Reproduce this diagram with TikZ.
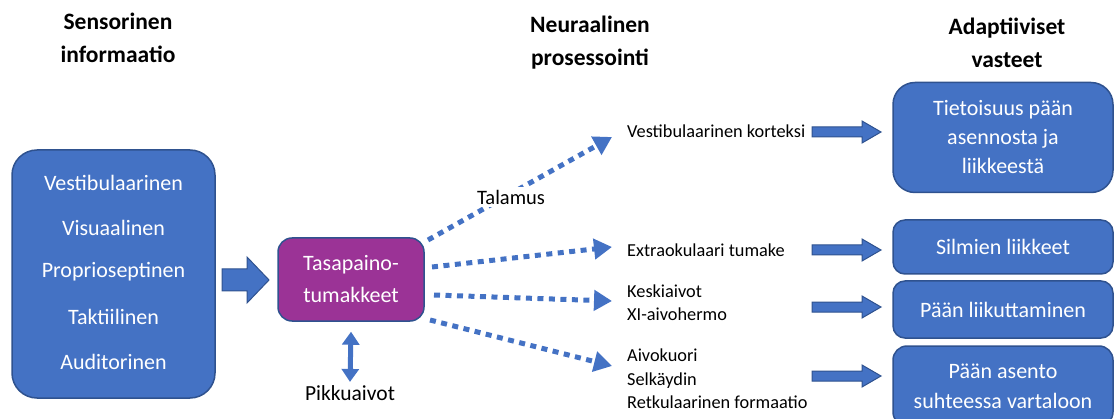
\documentclass[tikz,border=0pt]{standalone}
\usepackage{fontspec}
\setmainfont{Carlito}
\usetikzlibrary{arrows.meta}
\definecolor{bfill}{HTML}{4472C4}
\definecolor{bdraw}{HTML}{2F528F}
\definecolor{pfill}{RGB}{155,51,150}
\tikzset{
  bluebox/.style={draw=bdraw,line width=1.5pt,fill=bfill,rounded corners=18pt,text=white,align=center,font=\fontsize{22}{29}\selectfont,inner sep=0pt},
  purplebox/.style={draw=bdraw,line width=1.5pt,fill=pfill,rounded corners=14pt,text=white,align=center,font=\fontsize{22}{32}\selectfont,inner sep=0pt},
  head/.style={font=\bfseries\fontsize{23.5}{33}\selectfont,align=center},
  lab/.style={font=\fontsize{18.3}{23.5}\selectfont,align=left,anchor=west,inner sep=0pt},
  stxt/.style={text=white,font=\fontsize{22}{26}\selectfont},
  dotarrow/.style={draw=bfill,line width=5pt,dash pattern=on 6pt off 5.5pt,-{Triangle[length=18pt,width=20pt]}},
  blockarrow/.style={fill=bfill,draw=bdraw,line width=1pt},
}
\begin{document}
\begin{tikzpicture}[x=1pt,y=-1pt]
\useasboundingbox (0,0) rectangle (1115,419);
% headers
\node[head] (h1) at (118,38) {Sensorinen\\informaatio};
\node[head] (h2) at (590,43) {Neuraalinen\\prosessointi};
\node[head] (h3) at (1007,43) {Adaptiiviset\\vasteet};
% left box
\node[bluebox,rounded corners=25pt,minimum width=203pt,minimum height=248pt] (sens) at (113.5,274) {};
\node[stxt] (s1) at (113.5,183) {Vestibulaarinen};
\node[stxt] (s2) at (113.5,228) {Visuaalinen};
\node[stxt] (s3) at (113.5,272) {Proprioseptinen};
\node[stxt] (s4) at (113.5,317) {Taktiilinen};
\node[stxt] (s5) at (113.5,362) {Auditorinen};
% block arrow into purple
\draw[blockarrow] (222,269) -- (247,269) -- (247,257) -- (269,280) -- (247,303) -- (247,291) -- (222,291) -- cycle;
% purple box
\node[purplebox,minimum width=146pt,minimum height=83pt] (tp) at (351,279.5) {Tasapaino-\\tumakkeet};
% pikkuaivot
\node[font=\fontsize{21.5}{24}\selectfont] (pk) at (350,393) {Pikkuaivot};
\draw[draw=bfill,line width=5pt,{Triangle[length=13pt,width=17pt]}-{Triangle[length=13pt,width=17pt]}] (tp.south) ++(0,10) coordinate (pa) (pa) -- (pk.north);
% dotted arrows
\coordinate (d1s) at (428,240);
\coordinate (d1e) at (612,137);
\coordinate (d2s) at (432,267);
\coordinate (d2e) at (612,247);
\coordinate (d3s) at (434,295);
\coordinate (d3e) at (612,301);
\coordinate (d4s) at (430,320);
\coordinate (d4e) at (612,366);
\draw[dotarrow] (d1s) -- (d1e);
\draw[dotarrow] (d2s) -- (d2e);
\draw[dotarrow] (d3s) -- (d3e);
\draw[dotarrow] (d4s) -- (d4e);
\node[fill=white,font=\fontsize{20.5}{24}\selectfont,inner sep=3pt] (tal) at (511,197) {Talamus};
% labels
\node[lab] (l1) at (627,131) {Vestibulaarinen korteksi};
\node[lab] (l2) at (627,250) {Extraokulaari tumake};
\node[lab] (l3) at (627,302.5) {Keskiaivot\\XI-aivohermo};
\node[lab] (l4) at (627,379) {Aivokuori\\Selkäydin\\Retkulaarinen formaatio};
% right boxes
\node[bluebox,rounded corners=22pt,minimum width=220pt,minimum height=110pt] (r1) at (1003,137.5) {Tietoisuus pään\\asennosta ja\\liikkeestä};
\node[bluebox,rounded corners=12pt,minimum width=220pt,minimum height=54pt] (r2) at (1003,247) {Silmien liikkeet};
\node[bluebox,rounded corners=12pt,minimum width=220pt,minimum height=57pt] (r3) at (1003,309.5) {Pään liikuttaminen};
\node[bluebox,rounded corners=14pt,minimum width=220pt,minimum height=80pt,font=\fontsize{22}{30}\selectfont] (r4) at (1003,386) {Pään asento\\suhteessa vartaloon};
% right block arrows
\foreach \y/\n in {132/a1,250/a2,307/a3,376/a4}{
  \draw[blockarrow] (812,\y-5) -- (862,\y-5) -- (862,\y-11) -- (881,\y) -- (862,\y+11) -- (862,\y+5) -- (812,\y+5) -- cycle;
}
\end{tikzpicture}
\end{document}
